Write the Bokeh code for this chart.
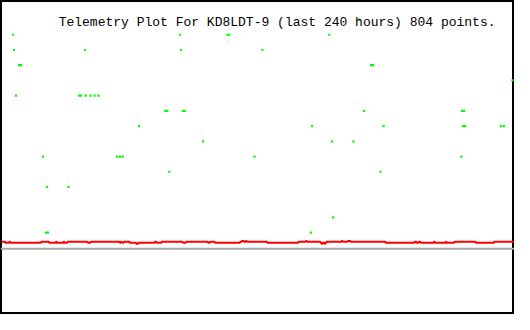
from bokeh.plotting import figure
from bokeh.models import Span, Label, Range1d
from bokeh.embed import file_html
from bokeh.resources import INLINE

# Red trace (step line): hours and level
red_hours = [0, 1.8, 3.6, 4.1, 18.6, 22.3, 25.5, 25.9, 29.1, 29.5, 30.9, 40.5, 41.8,
             55.5, 55.9, 56.4, 57.3, 60.0, 63.2, 64.1, 71.8, 72.7, 75.0, 85.0, 86.4,
             96.8, 97.7, 100.0, 111.8, 112.7, 113.6, 114.5, 115.0, 124.5, 139.1, 142.7,
             143.2, 149.5, 150.0, 150.5, 151.4, 151.8, 152.3, 159.5, 160.0, 162.3, 163.6,
             180.0, 193.6, 194.5, 195.5, 196.4, 202.7, 203.2, 208.2, 208.6, 212.3, 222.3,
             230.9, 240.5]
H, L, HH, LL = 0.40, 0.34, 0.46, 0.27
red_vals = [H, L, H, L, H, L, H, L, H, L, H, L, H,
            L, H, L, H, L, LL, L, H, L, H, L, H,
            L, H, L, H, HH, H, HH, H, L, H, HH,
            H, L, LL, L, LL, L, H, HH, H, HH, H,
            L, H, L, H, L, H, L, H, L, H, L,
            H, H]

# Green telemetry points: hours and level
green_hours = [5.5, 83.6, 105.9, 106.8, 153.6, 167.7,
               5.9, 39.1, 84.1, 122.3,
               8.2, 9.1, 173.2, 174.1,
               239.5,
               6.8, 36.4, 37.3, 39.5, 41.8, 43.6, 45.5,
               76.8, 77.7, 85.0, 85.9, 170.0, 215.9, 216.8,
               64.5, 145.5, 179.1, 216.4, 217.3, 234.1, 235.5,
               94.5, 155.0, 165.0,
               19.5, 54.1, 55.5, 56.8, 118.6, 215.5,
               78.6, 177.7,
               21.4, 31.4,
               155.5,
               20.9, 21.8, 145.0]
green_vals = [14, 14, 14, 14, 14, 15,
              13, 13, 13, 13,
              12, 12, 12, 12,
              11,
              10, 10, 10, 10, 10, 10, 10,
              9, 9, 9, 9, 9, 9, 9,
              8, 8, 8, 8, 8, 8, 8,
              7, 7, 7,
              6, 6, 6, 6, 6, 6,
              5, 5,
              4, 4,
              2,
              1, 1, 1]

baseline = -0.0625
title_text = "Telemetry Plot For KD8LDT-9 (last 240 hours) 804 points."

p = figure(width=514, height=314, output_backend="svg", toolbar_location=None,
           x_axis_location=None, y_axis_location=None,
           x_range=Range1d(-0.45, 240.45), y_range=Range1d(-4.375, 16.25),
           min_border=0, background_fill_color="white", border_fill_color="white")
p.grid.visible = False
p.outline_line_color = "black"
p.outline_line_width = 3

p.add_layout(Span(location=baseline, dimension="width", line_color="#a9a9a9", line_width=2))
p.step(red_hours, red_vals, mode="after", line_color="#ff0000", line_width=2)
p.scatter(green_hours, green_vals, marker="square", size=2.2, fill_color="#00ff00",
          line_color=None)

p.add_layout(Label(x=26.8, y=14.8, text=title_text, text_font="Liberation Mono",
                   text_font_size="13px", text_color="black", text_baseline="alphabetic"))

open("out.html", "w").write(file_html(p, INLINE))
